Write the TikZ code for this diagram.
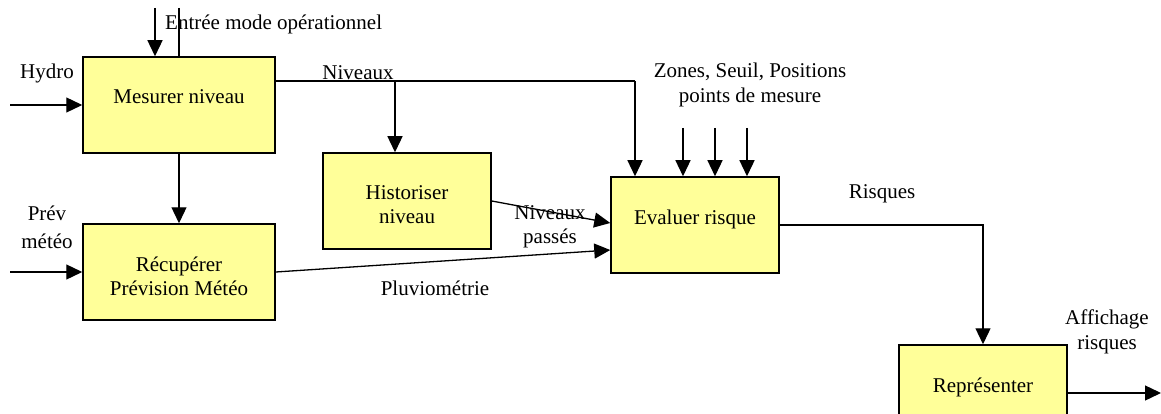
\documentclass[tikz,border=0pt]{standalone}
\usepackage{fontspec}
\setmainfont{Liberation Serif}
\usetikzlibrary{arrows.meta}
\definecolor{boxyellow}{HTML}{FFFF99}
\begin{document}
\begin{tikzpicture}[x=1pt,y=-1pt,
  box/.style={draw,line width=1.5pt,fill=boxyellow,minimum height=96pt,inner sep=0pt},
  txt/.style={align=center,inner sep=0pt,font=\fontsize{21}{24.5}\selectfont},
  flow/.style={line width=1.3pt,-{Triangle[length=16pt,width=15pt]}},
  plain/.style={line width=1.3pt}]
\useasboundingbox (0,0) rectangle (1161,414);
\clip (0,0) rectangle (1161,414);
% boxes
\node[box,minimum width=192pt] (m) at (179,105) {};
\node[box,minimum width=192pt] (r) at (179,272) {};
\node[box,minimum width=168pt] (h) at (407,201) {};
\node[box,minimum width=168pt] (e) at (695,225) {};
\node[box,minimum width=168pt] (rep) at (983,393) {};
% box texts
\node[txt,anchor=north] (mt) at ([yshift=-33pt]m.north) {Mesurer niveau};
\node[txt,anchor=north] (rt) at ([yshift=-33pt]r.north) {Récupérer\\Prévision Météo};
\node[txt,anchor=north] (ht) at ([yshift=-33pt]h.north) {Historiser\\niveau};
\node[txt,anchor=north] (et) at ([yshift=-33pt]e.north) {Evaluer risque};
\node[txt,anchor=north] (rept) at ([yshift=-33pt]rep.north) {Représenter};
% coordinates
\coordinate (in1) at (155,8);
\coordinate (in2) at (179,8);
\coordinate (hin) at (10,105);
\coordinate (pin) at (10,272);
\coordinate (n1) at (395,81);
\coordinate (n2) at (635,81);
\coordinate (z1) at (683,128);
\coordinate (z2) at (715,128);
\coordinate (z3) at (747,128);
\coordinate (out) at (1161,393);
% connectors
\draw[flow] (in1) -- (in1 |- m.north);
\draw[plain] (in2) -- (m.north);
\draw[flow] (hin) -- (m.west);
\draw[flow] (pin) -- (r.west);
\draw[flow] (m.south) -- (r.north);
\draw[plain] (m.east |- n1) -- (n2);
\draw[flow] (n1) -- (n1 |- h.north);
\draw[flow] (n2) -- (n2 |- e.north);
\draw[flow] (z1) -- (z1 |- e.north);
\draw[flow] (z2) -- (z2 |- e.north);
\draw[flow] (z3) -- (z3 |- e.north);
\draw[flow] (h.east) -- ([yshift=2pt]e.west);
\draw[flow] (r.east) -- ([yshift=-25pt]e.west);
\draw[flow] (e.east) -- (rep.north |- e.east) -- (rep.north);
\draw[flow] (rep.east) -- (out);
% labels
\node[txt,anchor=base west] (lentree) at (165,30) {Entrée mode opérationnel};
\node[txt,anchor=base] (lhydro) at (47,79) {Hydro};
\node[txt] (lprev) at (47,227) {Prév\\[3.5pt]météo};
\node[txt,anchor=base] (lniv) at (358,80) {Niveaux};
\node[txt] (lzones) at (750,85) {Zones, Seuil, Positions\\points de mesure};
\node[txt] (lpasses) at (550,227) {Niveaux\\passés};
\node[txt,anchor=base] (lpluvio) at (435,295) {Pluviométrie};
\node[txt,anchor=base] (lrisq) at (882,199) {Risques};
\node[txt] (laff) at (1107,332) {Affichage\\risques};
\end{tikzpicture}
\end{document}
